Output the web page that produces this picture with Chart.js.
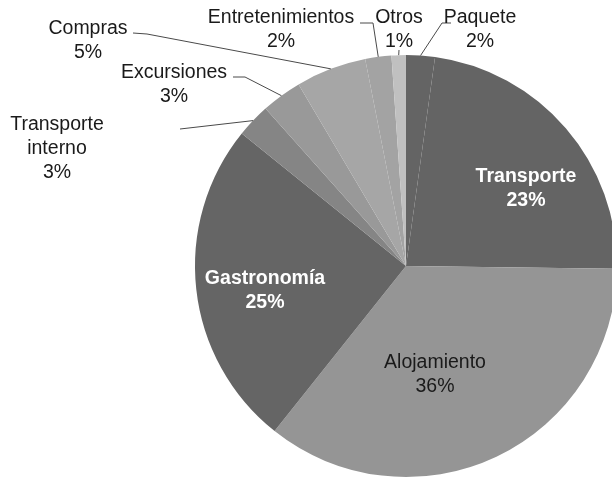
<!DOCTYPE html>
<html>
<head>
<meta charset="utf-8">
<script src="https://cdn.jsdelivr.net/npm/chart.js@4"></script>
<style>
html,body{margin:0;padding:0;background:#fff;overflow:hidden;width:612px;height:478px;}
#wrap{width:624px;height:478px;}
</style>
</head>
<body>
<div id="wrap"><canvas id="c" width="624" height="478"></canvas></div>
<script>
// Data
const categories = ["Paquete","Transporte","Alojamiento","Gastronomía","Transporte interno","Excursiones","Compras","Entretenimientos","Otros"];
const shares = [2.2, 23.0, 35.5, 25.1, 2.6, 3.1, 5.4, 2.0, 1.1];
const sliceColors = ["#646464","#646464","#959595","#656565","#858585","#999999","#a6a6a6","#a3a3a3","#c0c0c0"];

// Label layout (text anchors and leader-line bends), not data
const FONT = '"Liberation Sans", Arial, sans-serif';
const FS = 19.5, LH = 24;
const labelLayout = [
  {inside:false, x:480, y:18, bends:[[451,23],[442,23]]},
  {inside:true,  x:526, y:177, bold:true, color:"#ffffff"},
  {inside:true,  x:435, y:363, bold:false, color:"#1a1a1a"},
  {inside:true,  x:265, y:279, bold:true, color:"#ffffff"},
  {inside:false, x:57,  y:125, wrap:true, bends:[[180,129]]},
  {inside:false, x:174, y:73,  bends:[[233,77],[245,77]]},
  {inside:false, x:88,  y:29,  bends:[[133,33],[147,34]]},
  {inside:false, x:281, y:18,  bends:[[360,23],[373,23]]},
  {inside:false, x:399, y:18,  bends:[[399,50]]}
];

const labelPlugin = {
  id: 'pieLabels',
  afterDatasetsDraw(chart) {
    const ctx = chart.ctx;
    const meta = chart.getDatasetMeta(0);
    ctx.save();
    meta.data.forEach((arc, i) => {
      const L = labelLayout[i];
      const p = arc.getProps(['x','y','startAngle','endAngle','outerRadius'], true);
      const mid = (p.startAngle + p.endAngle) / 2;
      const pct = Math.round(shares[i]) + '%';
      const name = categories[i];
      const lines = L.wrap ? name.split(' ').concat([pct]) : [name, pct];
      if (!L.inside) {
        const ex = p.x + Math.cos(mid) * p.outerRadius;
        const ey = p.y + Math.sin(mid) * p.outerRadius;
        ctx.strokeStyle = '#4a4a4a';
        ctx.lineWidth = 1;
        ctx.beginPath();
        L.bends.forEach((b, k) => { if (k === 0) ctx.moveTo(b[0], b[1]); else ctx.lineTo(b[0], b[1]); });
        ctx.lineTo(ex, ey);
        ctx.stroke();
      }
      ctx.font = (L.bold ? 'bold ' : '') + FS + 'px ' + FONT;
      ctx.fillStyle = L.inside ? L.color : '#1a1a1a';
      ctx.textAlign = 'center';
      ctx.textBaseline = 'middle';
      lines.forEach((t, k) => ctx.fillText(t, L.x, L.y + k * LH));
    });
    ctx.restore();
  }
};

new Chart(document.getElementById('c'), {
  type: 'pie',
  data: {
    labels: categories,
    datasets: [{
      data: shares,
      backgroundColor: sliceColors,
      borderWidth: 0
    }]
  },
  options: {
    responsive: false,
    animation: false,
    layout: { padding: { left: 195, right: 7, top: 55, bottom: 1 } },
    plugins: { legend: { display: false }, tooltip: { enabled: false } }
  },
  plugins: [labelPlugin]
});
</script>
</body>
</html>
